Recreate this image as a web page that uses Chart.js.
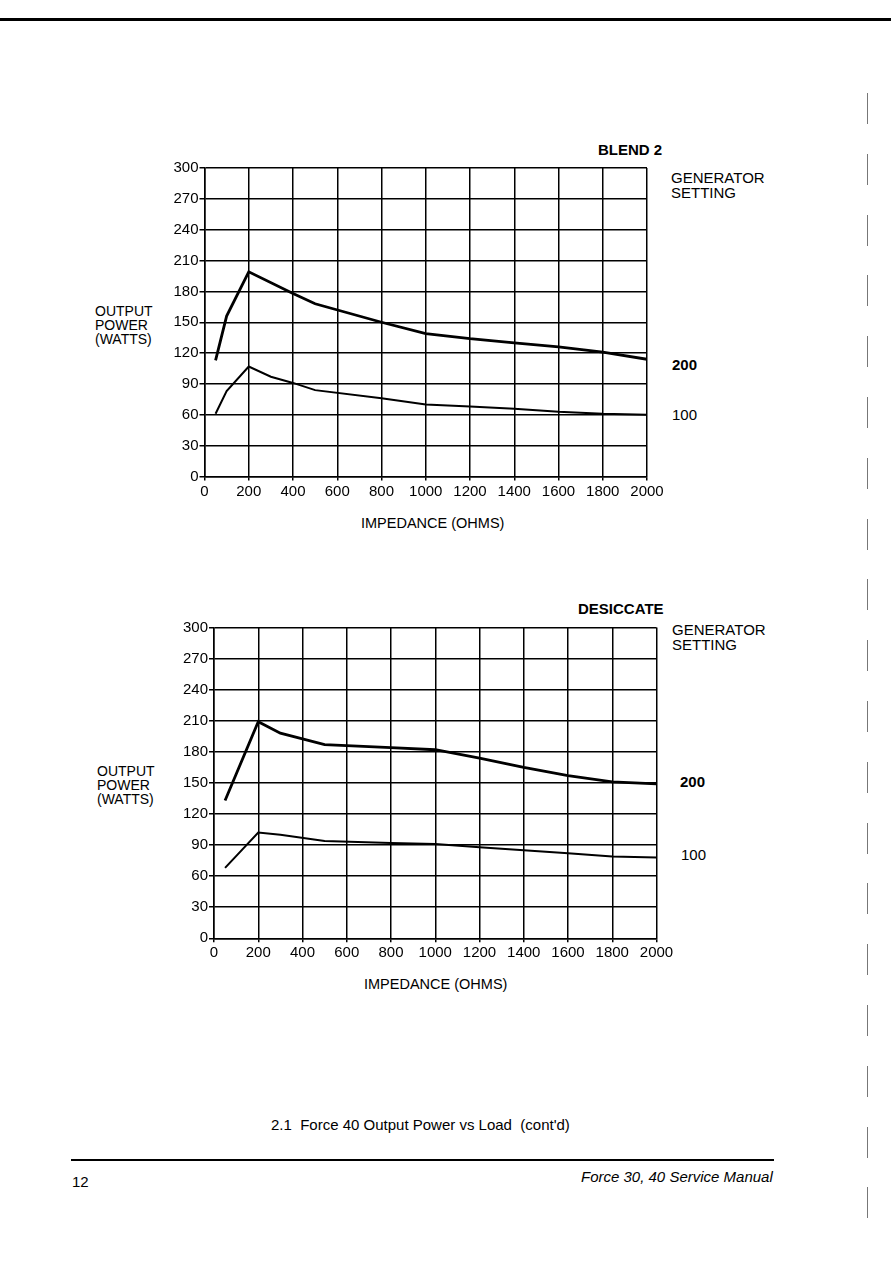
<!DOCTYPE html>
<html>
<head>
<meta charset="utf-8">
<script src="https://cdn.jsdelivr.net/npm/chart.js@4.4.1/dist/chart.umd.min.js"></script>
<style>
  html, body { margin: 0; padding: 0; background: #fff; }
  body { width: 891px; height: 1266px; position: relative; overflow: hidden; font-family: "Liberation Sans", Arial, sans-serif; color: #000; }
  .t { position: absolute; white-space: nowrap; }
  canvas { position: absolute; }
  .rule { position: absolute; background: #000; }
  .dash { position: absolute; width: 1px; background: #777; }
</style>
</head>
<body>
<div class="rule" style="left:0;top:18px;width:891px;height:3px;"></div>

<!-- Chart 1 texts -->
<div class="t" style="left:598px;top:142px;font-size:15px;line-height:15px;font-weight:bold;">BLEND 2</div>
<div class="t" style="left:671px;top:170px;font-size:15px;line-height:15px;">GENERATOR<br>SETTING</div>
<div class="t" style="left:95px;top:304px;font-size:14px;line-height:14px;">OUTPUT<br>POWER<br>(WATTS)</div>
<div class="t" style="left:672px;top:357px;font-size:15px;line-height:15px;font-weight:bold;">200</div>
<div class="t" style="left:672px;top:407px;font-size:15px;line-height:15px;">100</div>
<div class="t" style="left:361px;top:516px;font-size:14.5px;line-height:15px;">IMPEDANCE (OHMS)</div>

<!-- Chart 2 texts -->
<div class="t" style="left:578px;top:601px;font-size:15px;line-height:15px;font-weight:bold;">DESICCATE</div>
<div class="t" style="left:672px;top:622px;font-size:15px;line-height:15px;">GENERATOR<br>SETTING</div>
<div class="t" style="left:97px;top:764px;font-size:14px;line-height:14px;">OUTPUT<br>POWER<br>(WATTS)</div>
<div class="t" style="left:680px;top:774px;font-size:15px;line-height:15px;font-weight:bold;">200</div>
<div class="t" style="left:681px;top:847px;font-size:15px;line-height:15px;">100</div>
<div class="t" style="left:364px;top:977px;font-size:14.5px;line-height:15px;">IMPEDANCE (OHMS)</div>

<!-- caption and footer -->
<div class="t" style="left:271px;top:1117px;font-size:15px;line-height:16px;">2.1&nbsp; Force 40 Output Power vs Load&nbsp; (cont'd)</div>
<div class="rule" style="left:71px;top:1159px;width:703px;height:2px;"></div>
<div class="t" style="left:72px;top:1174px;font-size:15px;line-height:16px;">12</div>
<div class="t" style="left:581px;top:1169px;font-size:15px;line-height:16px;font-style:italic;">Force 30, 40 Service Manual</div>

<canvas id="c1" width="891" height="400" style="left:0;top:130px;width:891px;height:400px;"></canvas>
<canvas id="c2" width="891" height="400" style="left:0;top:590px;width:891px;height:400px;"></canvas>

<script>
// ---- Data ----
const xTickStep = 200;
const yTickStep = 30;

// BLEND 2
const blendImp200 = [50, 100, 200, 400, 500, 800, 1000, 1200, 1400, 1600, 1800, 2000];
const blendPow200 = [113, 156, 199, 178, 168, 150, 139, 134, 130, 126, 121, 114];
const blendImp100 = [50, 100, 200, 300, 400, 500, 800, 1000, 1200, 1400, 1600, 1800, 2000];
const blendPow100 = [61, 83, 107, 97, 91, 84, 76, 70, 68, 66, 63, 61, 60];

// DESICCATE
const desImp200 = [50, 200, 300, 500, 800, 1000, 1200, 1400, 1600, 1800, 2000];
const desPow200 = [133, 209, 198, 187, 184, 182, 174, 165, 157, 151, 149];
const desImp100 = [50, 200, 300, 500, 800, 1000, 1200, 1400, 1600, 1800, 2000];
const desPow100 = [68, 102, 100, 94, 92, 91, 88, 85, 82, 79, 78];

// ---- decorations: binding marks on right edge ----
(function(){
  for (let i = 0; i < 19; i++) {
    const d = document.createElement('div');
    d.className = 'dash';
    d.style.left = '867px';
    d.style.top = (93 + i * 60.8) + 'px';
    d.style.height = '31px';
    document.body.appendChild(d);
  }
})();

function pts(xs, ys) { return xs.map((x, i) => ({ x: x, y: ys[i] })); }

function makeChart(id, s200, s100, yAxisWidth, pad) {
  const ctx = document.getElementById(id);
  return new Chart(ctx, {
    type: 'line',
    data: {
      datasets: [
        { data: s200, borderColor: '#000', borderWidth: 2.8, pointRadius: 0, tension: 0, fill: false },
        { data: s100, borderColor: '#000', borderWidth: 2, pointRadius: 0, tension: 0, fill: false }
      ]
    },
    options: {
      responsive: false,
      animation: false,
      events: [],
      layout: { padding: pad },
      plugins: { legend: { display: false }, tooltip: { enabled: false }, title: { display: false } },
      scales: {
        x: {
          type: 'linear', min: 0, max: 2000,
          afterFit: (s) => { s.height = 30; },
          ticks: { stepSize: xTickStep, color: '#000', font: { family: 'Liberation Sans', size: 15 }, padding: 2, maxRotation: 0, autoSkip: false, callback: (v) => String(v) },
          grid: { color: '#000', lineWidth: 1.5, tickLength: 4, drawTicks: true },
          border: { display: true, color: '#000', width: 1.5 }
        },
        y: {
          min: 0, max: 300,
          afterFit: (s) => { s.width = yAxisWidth; },
          ticks: { stepSize: yTickStep, color: '#000', font: { family: 'Liberation Sans', size: 15 }, padding: 1, callback: (v) => String(v) },
          grid: { color: '#000', lineWidth: 1.5, tickLength: 5, drawTicks: true },
          border: { display: true, color: '#000', width: 1.5 }
        }
      }
    }
  });
}

makeChart('c1', pts(blendImp200, blendPow200), pts(blendImp100, blendPow100), 204.5,
  { left: 0, top: 38, right: 244, bottom: 23.5 });
makeChart('c2', pts(desImp200, desPow200), pts(desImp100, desPow100), 214,
  { left: 0, top: 37.5, right: 234.5, bottom: 21.7 });
</script>
</body>
</html>
